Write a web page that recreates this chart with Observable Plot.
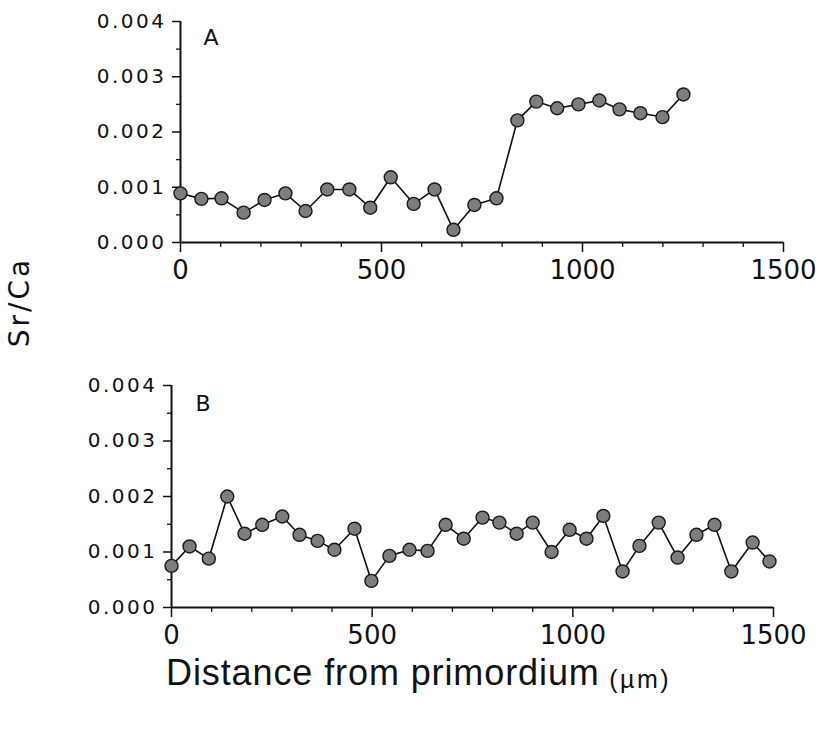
<!DOCTYPE html>
<html>
<head>
<meta charset="utf-8">
<script src="https://cdn.jsdelivr.net/npm/d3@7"></script>
<script src="https://cdn.jsdelivr.net/npm/@observablehq/plot@0.6"></script>
<style>
  html, body { margin: 0; padding: 0; background: #fff; }
  #wrap { position: relative; width: 820px; height: 736px; font-family: "Liberation Sans", Arial, sans-serif; color: #111; }
  #wrap svg { position: absolute; left: 0; }
  #ylab { position: absolute; left: 20px; top: 302px; transform: translate(-50%, -50%) rotate(-90deg); font-family: "DejaVu Sans", sans-serif; font-size: 28px; letter-spacing: 3px; white-space: nowrap; line-height: 1; }
  #xlab { position: absolute; left: 166px; top: 655px; font-size: 36px; line-height: 1; white-space: nowrap; letter-spacing: 0.9px; }
  #xlab span { font-size: 25px; letter-spacing: 2.5px; vertical-align: -3px; }
</style>
</head>
<body>
<div id="wrap">
  <div id="ylab">Sr/Ca</div>
  <div id="xlab">Distance from primordium<span> (µm)</span></div>
</div>
<script>
// Panel A
const distA = [0, 52, 102, 157, 209, 261, 311, 365, 420, 472, 523, 580, 632, 679, 731, 786, 838, 885, 937, 990, 1042, 1092, 1144, 1199, 1251];
const srcaA = [0.00089, 0.00079, 0.0008, 0.00054, 0.00077, 0.00089, 0.00057, 0.00096, 0.00096, 0.00063, 0.00118, 0.0007, 0.00096, 0.00023, 0.00068, 0.0008, 0.00221, 0.00255, 0.00243, 0.0025, 0.00257, 0.00241, 0.00234, 0.00227, 0.00268];
// Panel B
const distB = [0, 45, 93, 139, 182, 226, 276, 319, 364, 406, 456, 498, 543, 593, 638, 683, 728, 775, 817, 860, 900, 947, 992, 1034, 1076, 1124, 1166, 1214, 1261, 1308, 1353, 1395, 1448, 1490];
const srcaB = [0.00075, 0.0011, 0.00088, 0.002, 0.00133, 0.00149, 0.00164, 0.00131, 0.0012, 0.00104, 0.00142, 0.00048, 0.00093, 0.00104, 0.00102, 0.00149, 0.00124, 0.00162, 0.00153, 0.00133, 0.00153, 0.001, 0.0014, 0.00124, 0.00165, 0.00065, 0.00111, 0.00153, 0.0009, 0.00131, 0.00149, 0.00065, 0.00117, 0.00083];

const yTicks = [0, 0.001, 0.002, 0.003, 0.004];
const yMinor = [0.0005, 0.0015, 0.0025, 0.0035];
const xTicks = [0, 500, 1000, 1500];
const xMinor = [100, 200, 300, 400, 600, 700, 800, 900, 1100, 1200, 1300, 1400];
const panelLabels = ["A", "B"];

function panel(dist, vals, label, opts) {
  const data = dist.map((d, i) => ({x: d, y: vals[i]}));
  const svg = Plot.plot({
    width: 820,
    height: opts.height,
    marginLeft: opts.left,
    marginRight: opts.right,
    marginTop: 21,
    marginBottom: 50,
    style: {fontFamily: '"DejaVu Sans", sans-serif', color: "#111", background: "transparent", overflow: "visible"},
    x: {domain: [0, 1500], label: null},
    y: {domain: [0, 0.004], label: null},
    marks: [
      Plot.axisY(yTicks, {tickSize: 8, tickPadding: 6, strokeWidth: 1.5, fontSize: 20, tickFormat: d => d.toFixed(3), label: null}),
      Plot.axisY(yMinor, {tickSize: 4, strokeWidth: 1.3, tickFormat: () => "", label: null}),
      Plot.axisX(xTicks, {tickSize: 10, tickPadding: 8, strokeWidth: 1.5, fontSize: 26, tickFormat: d => String(d), label: null}),
      Plot.axisX(xMinor, {tickSize: 5, strokeWidth: 1.3, tickFormat: () => "", label: null}),
      Plot.ruleX([0], {stroke: "#111", strokeWidth: 2}),
      Plot.ruleY([0], {stroke: "#111", strokeWidth: 2}),
      Plot.line(data, {x: "x", y: "y", stroke: "#111", strokeWidth: 1.6}),
      Plot.dot(data, {x: "x", y: "y", r: 6.5, fill: "#7d7d7d", stroke: "#1a1a1a", strokeWidth: 1.4}),
      Plot.text([label], {frameAnchor: "top-left", textAnchor: "start", lineAnchor: "top", dx: opts.ldx, dy: opts.ldy, fontSize: 22, fill: "#111"})
    ]
  });
  // style tick labels explicitly
  svg.querySelectorAll('g[aria-label="y-axis tick label"] text').forEach(t => {
    t.style.fontSize = "20px"; t.style.letterSpacing = "2.5px";
  });
  svg.querySelectorAll('g[aria-label="x-axis tick label"] text').forEach(t => {
    t.style.fontSize = "26px";
  });
  svg.querySelectorAll('g[aria-label="text"] text').forEach(t => {
    t.style.fontSize = "22px";
  });
  return svg;
}

const wrap = document.getElementById("wrap");
const a = panel(distA, srcaA, panelLabels[0], {height: 292, left: 180, right: 37, ldx: 23, ldy: 8});
a.style.top = "0px";
wrap.appendChild(a);
const b = panel(distB, srcaB, panelLabels[1], {height: 293, left: 171, right: 47, ldx: 24, ldy: 10});
b.style.top = "364px";
wrap.appendChild(b);
</script>
</body>
</html>
